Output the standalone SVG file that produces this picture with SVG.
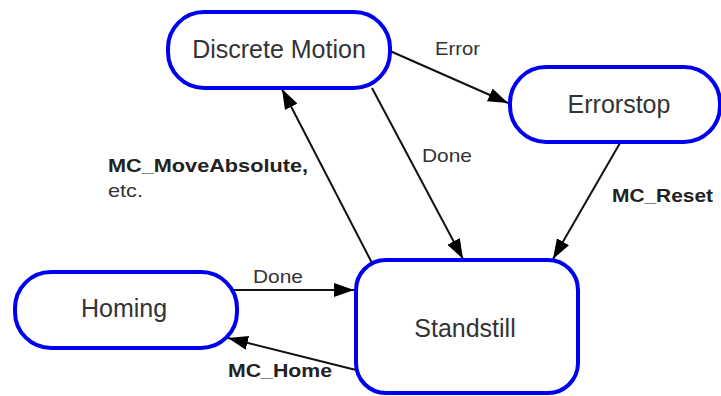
<svg xmlns="http://www.w3.org/2000/svg" width="721" height="396" viewBox="0 0 721 396">
<defs>
<style>
.node{fill:#fff;stroke:#0000f0;stroke-width:4}
.nt{font-family:"Liberation Sans",Arial,sans-serif;font-size:25px;fill:#333;text-anchor:middle}
.lb{font-family:"Liberation Sans",Arial,sans-serif;font-size:19px;fill:#333}
.b{font-weight:bold;fill:#222}
.edge{stroke:#111;stroke-width:2;fill:none;marker-end:url(#ah)}
</style>
<marker id="ah" markerUnits="userSpaceOnUse" markerWidth="22" markerHeight="16" refX="20" refY="7" orient="auto">
<path d="M0,0 L20,7 L0,14 z" fill="#000"/>
</marker>
</defs>
<rect width="721" height="396" fill="#fff"/>
<g id="connectors">
<line class="edge" x1="390" y1="51" x2="508" y2="103"/>
<line class="edge" x1="372" y1="88" x2="463" y2="259"/>
<line class="edge" x1="620" y1="143" x2="553" y2="259"/>
<line class="edge" x1="372" y1="263" x2="282" y2="89"/>
<line class="edge" x1="234" y1="290" x2="354" y2="290"/>
<line class="edge" x1="356" y1="370" x2="228" y2="338"/>
<text class="lb" x="435" y="55" textLength="45" lengthAdjust="spacingAndGlyphs">Error</text>
<text class="lb" x="422" y="162" textLength="50" lengthAdjust="spacingAndGlyphs">Done</text>
<text class="lb b" x="612" y="202" textLength="101" lengthAdjust="spacingAndGlyphs">MC_Reset</text>
<text class="lb b" x="108" y="172" textLength="200" lengthAdjust="spacingAndGlyphs">MC_MoveAbsolute,</text>
<text class="lb" x="108" y="197" textLength="35" lengthAdjust="spacingAndGlyphs">etc.</text>
<text class="lb" x="253" y="283" textLength="50" lengthAdjust="spacingAndGlyphs">Done</text>
<text class="lb b" x="228" y="377" textLength="104" lengthAdjust="spacingAndGlyphs">MC_Home</text>
</g>
<g id="discrete-motion">
<rect class="node" x="168" y="12" width="222" height="76" rx="36" ry="36"/>
<text class="nt" x="279" y="58">Discrete Motion</text>
</g>
<g id="errorstop">
<rect class="node" x="510" y="67" width="210" height="75" rx="36" ry="36"/>
<text class="nt" x="619" y="113">Errorstop</text>
</g>
<g id="homing">
<rect class="node" x="15" y="272" width="222" height="76" rx="36" ry="36"/>
<text class="nt" x="124" y="317">Homing</text>
</g>
<g id="standstill">
<rect class="node" x="356" y="260" width="222" height="133" rx="30" ry="30"/>
<text class="nt" x="465" y="337">Standstill</text>
</g>
</svg>
